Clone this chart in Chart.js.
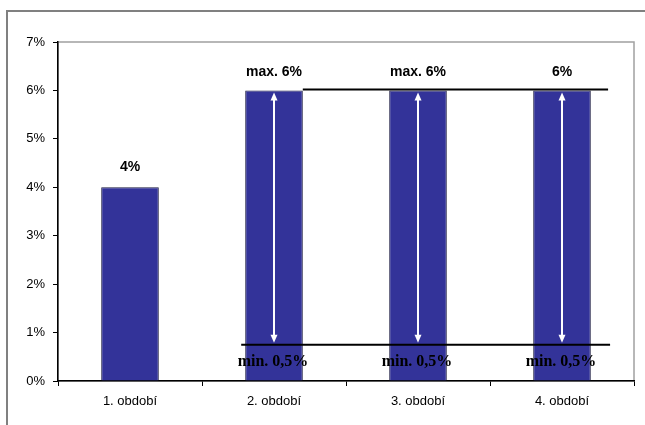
<!DOCTYPE html>
<html lang="cs">
<head>
    <meta charset="UTF-8">
    <title>Období</title>
    <script src="https://cdn.jsdelivr.net/npm/chart.js"></script>
    <style>
        body {
            margin: 0;
            padding: 0;
            background: white;
            overflow: hidden;
        }

        .wrap {
            position: relative;
            width: 645px;
            height: 425px;
        }

        canvas {
            position: absolute;
            left: 0;
            top: 0;
        }
    </style>
</head>
<body>

    <div class="wrap">
        <canvas id="chart" width="645" height="425"></canvas>
    </div>

    <script>
        // data
        const categories = ['1. období', '2. období', '3. období', '4. období'];
        const values = [4, 6, 6, 6];
        const topLabels = ['4%', 'max. 6%', 'max. 6%', '6%'];
        const bottomLabels = [null, 'min. 0,5%', 'min. 0,5%', 'min. 0,5%'];
        const yTicks = [0, 1, 2, 3, 4, 5, 6, 7];
        const maxLine = 6;     // upper black line
        const minLine = 0.75;  // lower black line (drawn a bit above 0.5 in the original)

        function arrowHead(ctx, x, y, dir) {
            ctx.beginPath();
            ctx.moveTo(x, y);
            ctx.lineTo(x - 3.5, y - dir * 8);
            ctx.lineTo(x + 3.5, y - dir * 8);
            ctx.closePath();
            ctx.fill();
        }

        // frame, plot border, lines, arrows and labels
        const extras = {
            id: 'extras',
            beforeDraw(chart) {
                const ctx = chart.ctx;
                const a = chart.chartArea;
                ctx.save();
                // outer frame (cut off by the picture edges)
                ctx.strokeStyle = '#808080';
                ctx.lineWidth = 2;
                ctx.strokeRect(7, 11, 700, 500);
                // plot area border
                ctx.strokeStyle = '#a0a0a0';
                ctx.lineWidth = 1.5;
                ctx.strokeRect(a.left, a.top, a.right - a.left, a.bottom - a.top);
                ctx.restore();
            },
            afterDatasetsDraw(chart) {
                const ctx = chart.ctx;
                const x = chart.scales.x;
                const y = chart.scales.y;
                const meta = chart.getDatasetMeta(0);
                const step = x.getPixelForValue(1) - x.getPixelForValue(0);
                const half = meta.data[1].width / 2;
                const first = bottomLabels.findIndex(l => l !== null);
                const last = bottomLabels.length - 1;
                const yMax = y.getPixelForValue(maxLine);
                const yMin = y.getPixelForValue(minLine);

                ctx.save();
                // arrows inside bars
                ctx.strokeStyle = 'white';
                ctx.fillStyle = 'white';
                ctx.lineWidth = 2;
                for (let i = first; i <= last; i++) {
                    const bx = meta.data[i].x;
                    ctx.beginPath();
                    ctx.moveTo(bx, yMax + 8);
                    ctx.lineTo(bx, yMin - 8);
                    ctx.stroke();
                    arrowHead(ctx, bx, yMax + 2, -1);
                    arrowHead(ctx, bx, yMin - 2, 1);
                }

                // black lines
                const end = x.getPixelForValue(last) + half + step * 0.12;
                ctx.strokeStyle = 'black';
                ctx.lineWidth = 2;
                ctx.beginPath();
                ctx.moveTo(x.getPixelForValue(first) + half, yMax - 1);
                ctx.lineTo(end, yMax - 1);
                ctx.stroke();
                ctx.beginPath();
                ctx.moveTo(x.getPixelForValue(first) - half - 4, yMin);
                ctx.lineTo(end + 2, yMin);
                ctx.stroke();

                // labels
                ctx.fillStyle = 'black';
                ctx.textAlign = 'center';
                ctx.textBaseline = 'middle';
                ctx.font = 'bold 14px "Liberation Sans", Arial, sans-serif';
                topLabels.forEach((t, i) => {
                    const yy = y.getPixelForValue(values[i]) - (values[i] >= maxLine ? 18 : 20);
                    ctx.fillText(t, meta.data[i].x, yy);
                });
                ctx.font = 'bold 16px "Liberation Serif", "Times New Roman", serif';
                bottomLabels.forEach((t, i) => {
                    if (t) ctx.fillText(t, meta.data[i].x - 1, yMin + 17);
                });
                ctx.restore();
            }
        };

        const ctx = document.getElementById('chart').getContext('2d');
        const chart = new Chart(ctx, {
            type: 'bar',
            data: {
                labels: categories,
                datasets: [{
                    data: values,
                    backgroundColor: '#333399',
                    borderColor: '#1a1a40',
                    borderWidth: 1,
                    categoryPercentage: 1,
                    barPercentage: 0.4
                }]
            },
            options: {
                responsive: false,
                animation: false,
                events: [],
                layout: {
                    padding: { top: 42, right: 11, left: 0, bottom: 0 }
                },
                plugins: {
                    legend: { display: false },
                    tooltip: { enabled: false }
                },
                scales: {
                    x: {
                        afterFit(scale) { scale.height = 44; },
                        grid: {
                            offset: true,
                            drawOnChartArea: false,
                            color: 'black',
                            tickLength: 5
                        },
                        border: { color: 'black', width: 1.5 },
                        ticks: {
                            color: 'black',
                            padding: 8,
                            font: { family: '"Liberation Sans", Arial, sans-serif', size: 13 }
                        }
                    },
                    y: {
                        min: 0,
                        max: 7,
                        afterFit(scale) { scale.width = 58; },
                        afterBuildTicks(scale) {
                            scale.ticks = yTicks.map(v => ({ value: v }));
                        },
                        grid: {
                            drawOnChartArea: false,
                            color: 'black',
                            tickLength: 5
                        },
                        border: { color: 'black', width: 1.5 },
                        ticks: {
                            color: 'black',
                            padding: 8,
                            callback: v => v + '%',
                            font: { family: '"Liberation Sans", Arial, sans-serif', size: 13 }
                        }
                    }
                }
            },
            plugins: [extras]
        });
    </script>

</body>
</html>
